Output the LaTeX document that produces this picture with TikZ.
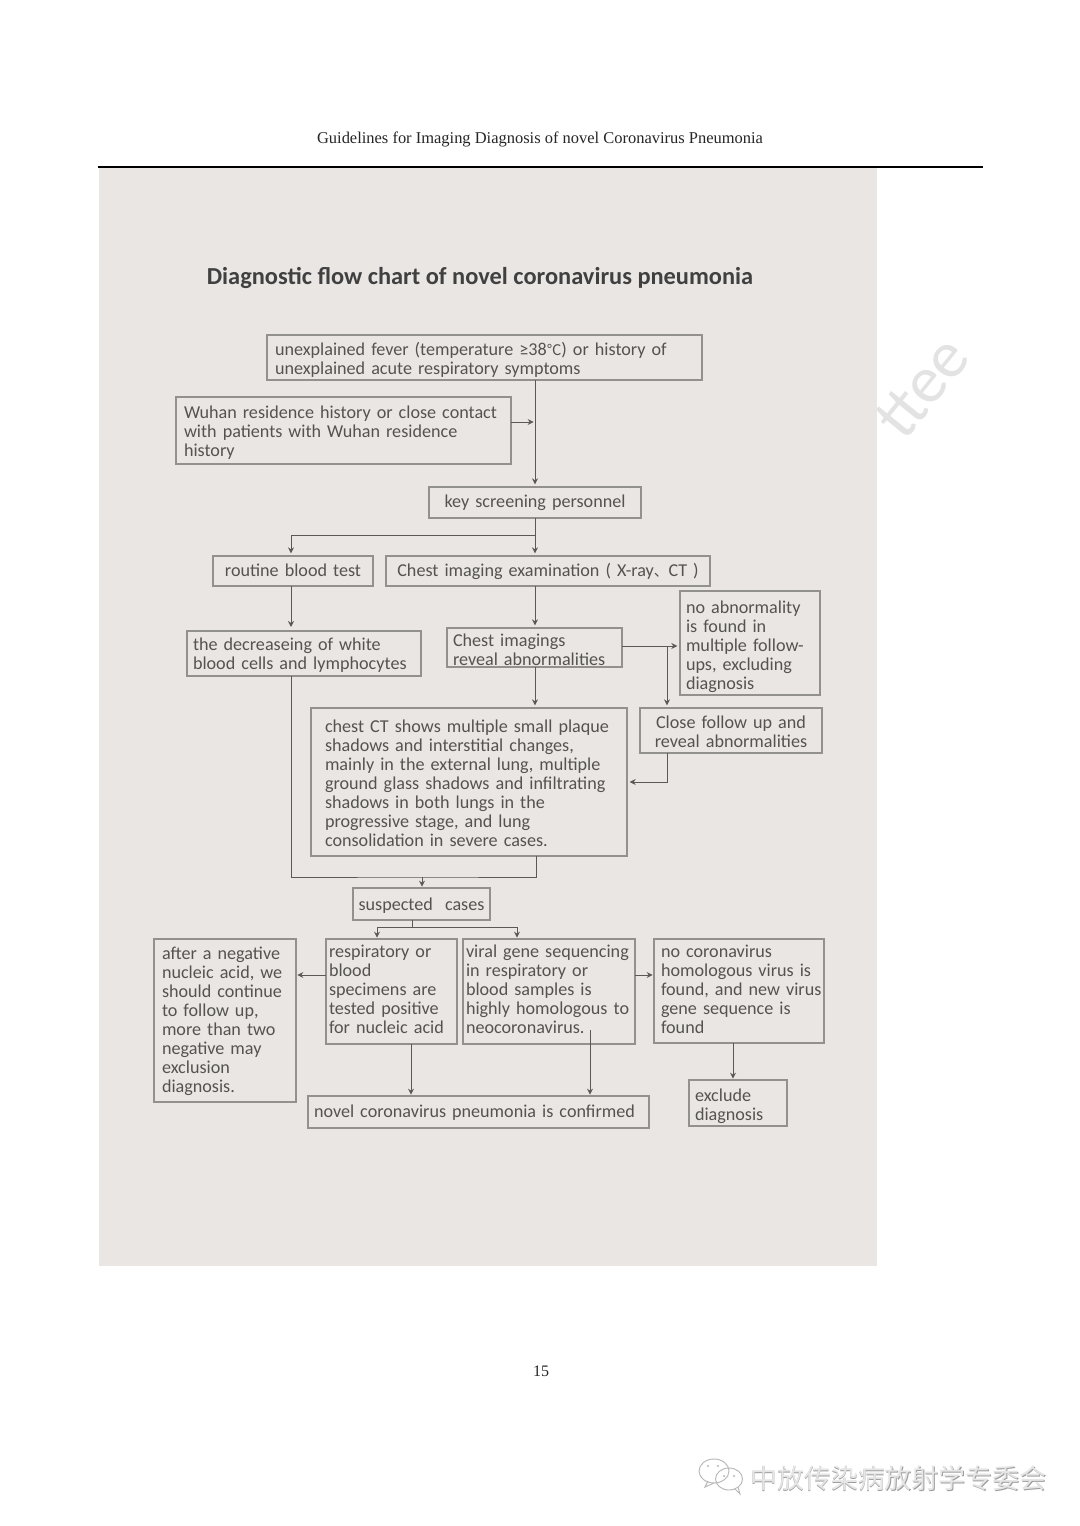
\documentclass[tikz,border=0pt]{standalone}
\usepackage{fontspec}
\setmainfont{Carlito}
\newfontfamily\headfont{Liberation Serif}
\newfontfamily\cjk{Noto Sans CJK SC}
\usetikzlibrary{arrows.meta}
\definecolor{panel}{HTML}{E9E6E3}
\definecolor{edge}{HTML}{92918D}
\definecolor{ink}{HTML}{55534F}
\definecolor{wire}{HTML}{5A5956}
\tikzset{
  flow/.style={draw=edge,line width=1pt,text=ink,inner ysep=0pt,outer sep=0pt,
    font=\fontsize{13.6}{14.25}\selectfont},
  wirepath/.style={draw=wire,line width=0.7pt},
  link/.style={wirepath,-{Stealth[length=4.5pt,width=4.5pt]}},
}
% Vertical adjustment of the next box's text, in pixels (positive moves it down)
\newcommand\flownudge{0}
% Box given by its pixel corners: [options]{name}{x1}{y1}{x2}{y2}{padding}{text}
\newcommand\flowbox[7][align=left]{%
  \pgfmathsetmacro\bw{(#5-#3)*0.75}%
  \pgfmathsetmacro\bh{(#6-#4)*0.75}%
  \pgfmathsetmacro\bp{#7*0.75}%
  \pgfmathsetmacro\btw{\bw-2*\bp}%
  \pgfmathsetmacro\bT{12.5+max(\flownudge,0)*1.5}%
  \pgfmathsetmacro\bD{max(-\flownudge,0)*1.5}%
  \node[flow,#1,inner xsep=\bp pt,text width=\btw pt,minimum height=\bh pt]
    (#2) at ({(#3+#5)/2},{(#4+#6)/2}) {\rule{0pt}{\bT pt}\flowtext\rule[-\bD pt]{0pt}{\bD pt}};%
  \renewcommand\flownudge{0}%
}
\newcommand\flowtext{}
\begin{document}
\begin{tikzpicture}[x=0.75pt,y=-0.75pt]
\useasboundingbox (0,0) rectangle (1080,1526);
\fill[white] (0,0) rectangle (1080,1526);

% faint diagonal stamp, partly hidden by the grey panel
\node[rotate=51,text=black!11,font=\fontsize{50}{50}\selectfont,anchor=east,inner sep=0pt]
  (stamp) at (956,345) {ttee};

% page furniture
\fill[panel] (99,168) rectangle (877,1266);
\node[font=\headfont\fontsize{12.35}{14}\selectfont,text=black!85] (head) at (540,139.5)
  {Guidelines for Imaging Diagnosis of novel Coronavirus Pneumonia};
\draw[black,line width=1.1pt] (98,167) -- (983,167);
\node[font=\headfont\fontsize{12}{14}\selectfont,text=black!85] (pageno) at (541,1371) {15};
\node[font=\bfseries\fontsize{18.3}{20}\selectfont,text=black!75] (title) at (480,277.5)
  {Diagnostic flow chart of novel coronavirus pneumonia};

% boxes
\renewcommand\flowtext{unexplained fever (temperature ≥38{\cjk\fontsize{11}{11}\selectfont ℃}) or history of\\unexplained acute respiratory symptoms}
\renewcommand\flownudge{1}
\flowbox{top}{267}{335}{702}{380}{8}
\renewcommand\flowtext{Wuhan residence history or close contact\\with patients with Wuhan residence\\history}
\flowbox{wuhan}{176}{397}{511}{464}{8}
\renewcommand\flowtext{key screening personnel}
\renewcommand\flownudge{-3}
\flowbox[align=center]{key}{429}{487}{641}{518}{4}
\renewcommand\flowtext{routine blood test}
\renewcommand\flownudge{-3}
\flowbox[align=center]{blood}{213}{556}{373}{586}{4}
\renewcommand\flowtext{Chest imaging examination ( X-ray{\cjk\fontsize{11}{11}\selectfont 、}CT )}
\renewcommand\flownudge{-3}
\flowbox[align=center]{chest}{386}{556}{710}{586}{4}
\renewcommand\flowtext{the decreaseing of white\\blood cells and lymphocytes}
\flowbox{wbc}{187}{631}{421}{676}{6}
\renewcommand\flowtext{Chest imagings\\reveal abnormalities}
\flowbox{imgs}{447}{628}{622}{667}{6}
\renewcommand\flowtext{no abnormality\\is found in\\multiple follow-\\ups, excluding\\diagnosis}
\renewcommand\flownudge{2}
\flowbox{noabn}{680}{591}{820}{695}{6}
\renewcommand\flowtext{Close follow up and\\reveal abnormalities}
\renewcommand\flownudge{-1}
\flowbox[align=center]{close}{640}{708}{822}{753}{4}
\renewcommand\flowtext{chest CT shows multiple small plaque\\shadows and interstitial changes,\\mainly in the external lung, multiple\\ground glass shadows and infiltrating\\shadows in both lungs in the\\progressive stage, and lung\\consolidation in severe cases.}
\renewcommand\flownudge{-1}
\flowbox{ct}{311}{708}{627}{856}{14}
\renewcommand\flowtext{suspected\ \ cases}
\flowbox[align=center]{susp}{353}{888}{490}{920}{3}
\renewcommand\flowtext{after a negative\\nucleic acid, we\\should continue\\to follow up,\\more than two\\negative may\\exclusion\\diagnosis.}
\renewcommand\flownudge{-3}
\flowbox{after}{154}{939}{296}{1102}{8}
\renewcommand\flowtext{respiratory or\\blood\\specimens are\\tested positive\\for nucleic acid}
\renewcommand\flownudge{-4}
\flowbox{resp}{326}{939}{457}{1044}{3}
\renewcommand\flowtext{viral gene sequencing\\in respiratory or\\blood samples is\\highly homologous to\\neocoronavirus.}
\renewcommand\flownudge{-4}
\flowbox{viral}{463}{939}{635}{1044}{3}
\renewcommand\flowtext{no coronavirus\\homologous virus is\\\mbox{found, and new virus}\\gene sequence is\\found}
\renewcommand\flownudge{-4}
\flowbox{nocov}{654}{939}{824}{1043}{7}
\renewcommand\flowtext{novel coronavirus pneumonia is confirmed}
\renewcommand\flownudge{-3}
\flowbox{conf}{308}{1096}{649}{1128}{6}
\renewcommand\flowtext{exclude\\diagnosis}
\renewcommand\flownudge{1}
\flowbox{excl}{689}{1080}{787}{1126}{6}

% junctions and free ends of the connectors
\coordinate (wuhanout) at (wuhan.east |- 0,422);
\coordinate (trunk) at (535,422);
\coordinate (split) at (535,535);
\coordinate (bloodin) at (291,556);
\coordinate (wbcin) at (291,631);
\coordinate (chestin) at (535,556);
\coordinate (imgsin) at (535,628);
\coordinate (ctin) at (535,708);
\coordinate (imgsout) at (622,646);
\coordinate (fork) at (667,646);
\coordinate (closein) at (667,708);
\coordinate (closeout) at (667,753);
\coordinate (ctside) at (627,782);
\coordinate (wbcout) at (291,676);
\coordinate (ctout) at (536,856);
\coordinate (merge) at (422,877);
\coordinate (suspout) at (412,920);
\coordinate (suspmid) at (412,927);
\coordinate (respin) at (377,939);
\coordinate (viralin) at (517,939);
\coordinate (respout) at (326,975);
\coordinate (afterin) at (296,975);
\coordinate (viralout) at (635,975);
\coordinate (nocovin) at (654,975);
\coordinate (respdown) at (411,1044);
\coordinate (confl) at (411,1096);
\coordinate (viraldown) at (590,1030);
\coordinate (confr) at (590,1096);
\coordinate (nocovdown) at (733,1043);
\coordinate (exclin) at (733,1080);

% connectors
\draw[link,shorten >=2pt] (key.north |- top.south) -- (key.north);
\draw[link,shorten >=1pt] (wuhanout) -- (trunk);
\draw[wirepath] (key.south) -- (split);
\draw[link,shorten >=2pt] (split) -- (chestin);
\draw[link,shorten >=2pt] (split) -| (bloodin);
\draw[link,shorten >=3pt] (blood.south -| wbcin) -- (wbcin);
\draw[link,shorten >=2pt] (chest.south -| imgsin) -- (imgsin);
\draw[link,shorten >=2pt] (imgs.south -| ctin) -- (ctin);
\draw[link,shorten >=2pt] (imgsout) -- (noabn.west |- imgsout);
\draw[link,shorten >=2pt] (fork) -- (closein);
\draw[link,shorten >=2pt] (closeout) |- (ctside);
\draw[wirepath] (wbcout) |- (merge) -| (ctout);
\draw[link,shorten >=1pt] (merge) -- (merge |- susp.north);
\draw[wirepath] (suspout) -- (suspmid);
\draw[link,shorten >=1pt] (suspmid) -| (respin);
\draw[link,shorten >=1pt] (suspmid) -| (viralin);
\draw[link,shorten >=1pt] (respout) -- (afterin);
\draw[link,shorten >=1pt] (viralout) -- (nocovin);
\draw[link,shorten >=1pt] (respdown) -- (confl);
\draw[link,shorten >=1pt] (viraldown) -- (confr);
\draw[link,shorten >=1pt] (nocovdown) -- (exclin);

% account mark at the foot of the page
\begin{scope}[draw=black!28,line width=0.7pt,fill=white]
  \draw (714,1471) ellipse (15 and 12);
  \draw (708,1481) -- (705,1487) -- (714,1483);
  \draw (729,1479) ellipse (13.5 and 11);
  \draw (735,1489) -- (740,1494) -- (738,1487);
\end{scope}
\fill[black!28] (708,1466) circle (1.1) (718,1466) circle (1.1) (724,1476) circle (1.1) (734,1476) circle (1.1);
\node[font=\cjk\fontsize{20.2}{22}\selectfont,text=black!38,anchor=west,inner sep=0pt] (accountshade) at (750.7,1479.2) {中放传染病放射学专委会};
\node[font=\cjk\fontsize{20.2}{22}\selectfont,text=black!10,anchor=west,inner sep=0pt] (account) at (750,1478.5) {中放传染病放射学专委会};
\end{tikzpicture}
\end{document}
